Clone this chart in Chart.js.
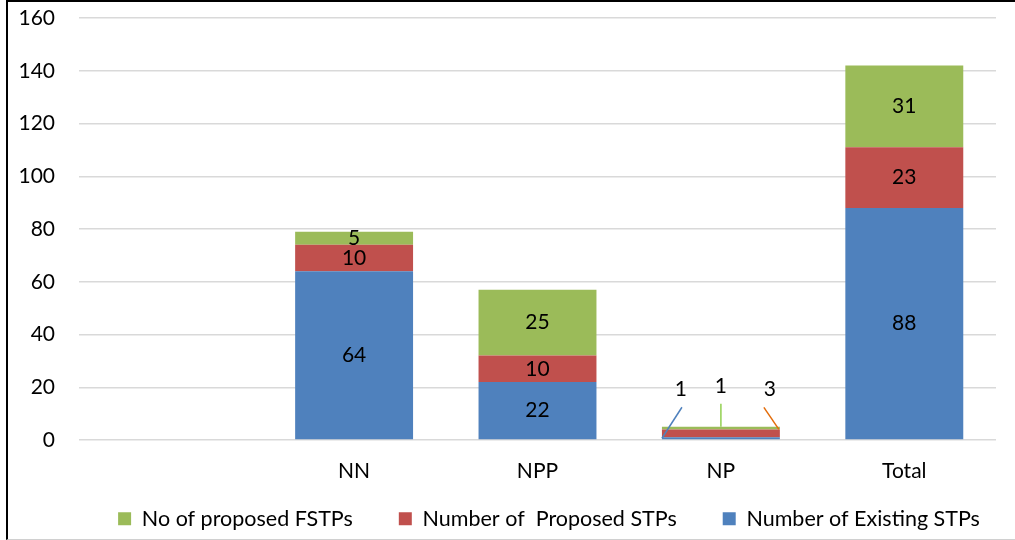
<!DOCTYPE html>
<html>
<head>
<meta charset="utf-8">
<script src="https://cdn.jsdelivr.net/npm/chart.js@4.4.1/dist/chart.umd.min.js"></script>
<style>
  html, body { margin: 0; padding: 0; background: #fff; }
  #wrap { position: relative; height: 540px; box-sizing: border-box;
          border-top: 2px solid #000; border-left: 2px solid #000; border-bottom: 1px solid #d0d0d0;
          margin-left: 6px; width: 1009px; }
  #myChart { position: absolute; left: -8px; top: -2px; }
</style>
</head>
<body>
<div id="wrap"><canvas id="myChart" width="1015" height="540"></canvas></div>
<script>
const labels = ['', 'NN', 'NPP', 'NP', 'Total'];
const existing = [null, 64, 22, 1, 88];
const proposedSTP = [null, 10, 10, 3, 23];
const proposedFSTP = [null, 5, 25, 1, 31];
const yTicks = [0, 20, 40, 60, 80, 100, 120, 140, 160];

const FONT = 'Lato';

// NP segments are too thin, labels sit outside with leader lines
const calloutCat = 3;
function calloutFor(dsIndex, el) {
    const half = el.width / 2;
    if (dsIndex === 0) return { color: '#4F81BD', from: [el.x - half, el.base - 1], to: [el.x - half + 20, el.base - 32], text: [el.x - half + 19, el.base - 50] };
    if (dsIndex === 1) return { color: '#E36C0A', from: [el.x + half - 1, el.base - 8], to: [el.x + half - 16, el.base - 30], text: [el.x + half - 10, el.base - 48] };
    return { color: '#92D050', from: [el.x, el.y], to: [el.x, el.y - 23], text: [el.x, el.y - 41] };
}

const valueLabels = {
    id: 'valueLabels',
    afterDatasetsDraw(chart) {
        const ctx = chart.ctx;
        ctx.save();
        ctx.font = '21px ' + FONT;
        ctx.fillStyle = '#000';
        ctx.textAlign = 'center';
        ctx.textBaseline = 'middle';
        chart.data.datasets.forEach((ds, i) => {
            const meta = chart.getDatasetMeta(i);
            meta.data.forEach((el, j) => {
                const v = ds.data[j];
                if (v == null) return;
                if (j === calloutCat) {
                    const c = calloutFor(i, el);
                    ctx.strokeStyle = c.color;
                    ctx.lineWidth = 1.5;
                    ctx.beginPath();
                    ctx.moveTo(c.from[0], c.from[1]);
                    ctx.lineTo(c.to[0], c.to[1]);
                    ctx.stroke();
                    ctx.fillText(String(v), c.text[0], c.text[1]);
                } else {
                    ctx.fillText(String(v), el.x, (el.y + el.base) / 2);
                }
            });
        });
        ctx.restore();
    }
};

// legend spacing: keep wide horizontal gaps but a short box, and nudge it like the original
const legendTweak = {
    id: 'legendTweak',
    beforeLayout(chart) {
        const lg = chart.legend;
        if (!lg || lg._tweaked) return;
        lg._tweaked = true;
        const fit = lg.fit.bind(lg);
        const draw = lg.draw.bind(lg);
        lg.fit = function () { fit(); this.height = 56; };
        lg.draw = function () {
            const ctx = this.ctx;
            const b = this.bottom;
            this.bottom = b + 80;
            ctx.save();
            ctx.translate(51, -16);
            draw();
            ctx.restore();
            this.bottom = b;
        };
    }
};

const data = {
    labels: labels,
    datasets: [
        { label: 'Number of Existing STPs', data: existing, backgroundColor: '#4F81BD' },
        { label: 'Number of  Proposed STPs', data: proposedSTP, backgroundColor: '#C0504D' },
        { label: 'No of proposed FSTPs', data: proposedFSTP, backgroundColor: '#9BBB59' }
    ]
};

const config = {
    type: 'bar',
    data,
    options: {
        responsive: false,
        animation: false,
        datasets: { bar: { barPercentage: 0.643, categoryPercentage: 1, borderWidth: 0 } },
        layout: { padding: { left: 0, right: 19, top: 0, bottom: 6 } },
        plugins: {
            tooltip: { enabled: false },
            legend: {
                position: 'bottom',
                reverse: true,
                labels: {
                    font: { family: FONT, size: 21.5 },
                    color: '#000',
                    boxWidth: 13,
                    boxHeight: 13,
                    padding: 46
                }
            }
        },
        scales: {
            x: {
                stacked: true,
                grid: { display: false, drawTicks: false },
                border: { display: false },
                ticks: { font: { family: FONT, size: 21 }, color: '#000', padding: 19 },
                afterFit: (s) => { s.height = 38; }
            },
            y: {
                stacked: true,
                min: 0,
                max: 160,
                afterBuildTicks: (s) => { s.ticks = yTicks.map(v => ({ value: v })); },
                grid: { color: '#d9d9d9', lineWidth: 1.5, drawTicks: false },
                border: { display: false },
                ticks: { font: { family: FONT, size: 21 }, color: '#000', padding: 24 },
                afterFit: (s) => { s.width = 79; s.paddingTop = 18; s.paddingBottom = 12; }
            }
        }
    },
    plugins: [valueLabels, legendTweak]
};

const myChart = new Chart(document.getElementById('myChart'), config);
</script>
</body>
</html>
